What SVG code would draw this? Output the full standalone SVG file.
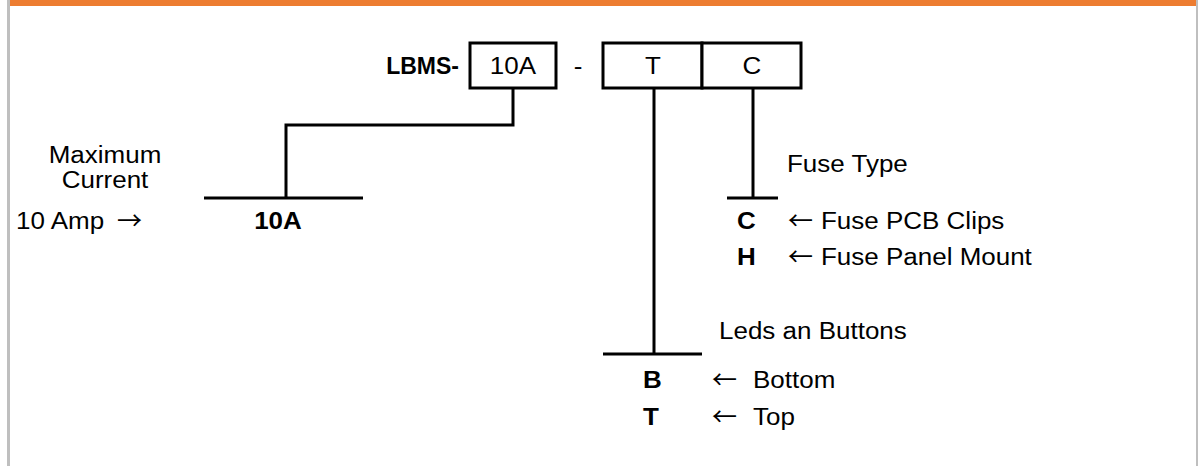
<svg xmlns="http://www.w3.org/2000/svg" width="1198" height="466" viewBox="0 0 1198 466">
<style>
text{font-family:"Liberation Sans",Arial,sans-serif;font-size:23px;fill:#000;transform-box:fill-box;transform:scaleX(1.13);transform-origin:left center}
.m{text-anchor:middle;transform-origin:center}
.b{font-weight:bold}
.code{font-weight:bold;text-anchor:end;transform:none}
.ar{font-family:"Noto Sans CJK SC","DejaVu Sans",sans-serif;font-size:25px;transform:none}
.box{fill:#fff;stroke:#000;stroke-width:3}
.ln{stroke:#000;stroke-width:3;fill:none}
</style>
<rect x="0" y="0" width="1198" height="466" fill="#fff"/>
<rect x="10" y="0" width="1187" height="6" fill="#ED7D31"/>
<rect x="7" y="0" width="3" height="466" fill="#BFBFBF"/>
<rect x="1196" y="0" width="2" height="466" fill="#BFBFBF"/>
<g id="code">
<text class="code" x="459" y="74">LBMS-</text>
<text x="578" y="74" class="m">-</text>
</g>
<g id="box-10A">
<rect class="box" x="470" y="43" width="86" height="45"/>
<text class="m" x="513" y="74">10A</text>
</g>
<g id="box-T">
<rect class="box" x="603" y="43" width="99" height="45"/>
<text class="m" x="653" y="74">T</text>
</g>
<g id="box-C">
<rect class="box" x="702" y="43" width="99" height="45"/>
<text class="m" x="752" y="74">C</text>
</g>
<g id="connectors">
<polyline class="ln" points="513,88 513,125 286,125 286,198"/>
<line class="ln" x1="204" y1="198" x2="363" y2="198"/>
<line class="ln" x1="753" y1="88" x2="753" y2="198"/>
<line class="ln" x1="727" y1="198" x2="778" y2="198"/>
<line class="ln" x1="654" y1="88" x2="654" y2="354"/>
<line class="ln" x1="603" y1="354" x2="702" y2="354"/>
</g>
<g id="current">
<text class="m" x="105" y="163">Maximum</text>
<text class="m" x="105" y="188">Current</text>
<text x="16" y="229">10 Amp</text>
<text class="ar" x="117" y="230">→</text>
<text class="b m" x="278" y="229">10A</text>
</g>
<g id="fuse">
<text x="787" y="172">Fuse Type</text>
<text class="b" x="737" y="229">C</text>
<text class="ar" x="788" y="230">←</text>
<text x="821" y="229">Fuse PCB Clips</text>
<text class="b" x="737" y="265">H</text>
<text class="ar" x="788" y="266">←</text>
<text x="821" y="265">Fuse Panel Mount</text>
</g>
<g id="leds">
<text x="719" y="339">Leds an Buttons</text>
<text class="b" x="643" y="388">B</text>
<text class="ar" x="712" y="389">←</text>
<text x="753" y="388">Bottom</text>
<text class="b" x="643" y="425">T</text>
<text class="ar" x="712" y="426">←</text>
<text x="753" y="425">Top</text>
</g>
</svg>
